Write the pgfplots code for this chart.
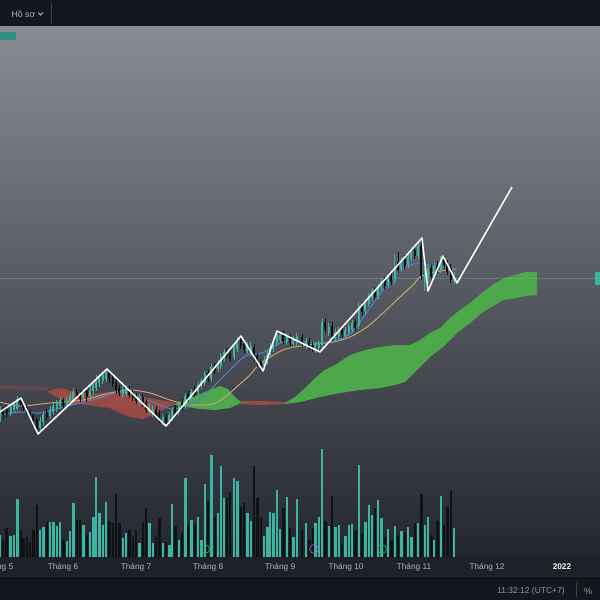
\documentclass[border=0pt]{standalone}
\usepackage{fontspec}
\setmainfont{Liberation Sans}
\usepackage{pgfplots}
\usepackage{pgfplotstable}
\pgfplotsset{compat=1.18}
\definecolor{barbg}{HTML}{131722}
\definecolor{bgtop}{HTML}{8A8C94}
\definecolor{bgmid}{HTML}{5C5E68}
\definecolor{bgbot}{HTML}{24262F}
\definecolor{band}{HTML}{1F2129}
\definecolor{statusbg}{HTML}{15171F}
\definecolor{upc}{HTML}{3CB4A2}
\definecolor{dnc}{HTML}{111214}
\definecolor{cgreen}{HTML}{4CA84A}
\definecolor{cred}{HTML}{A94B45}
\definecolor{mablue}{HTML}{4A86CC}
\definecolor{matan}{HTML}{CBA26E}
\definecolor{txt}{HTML}{B2B5BE}
\definecolor{evgreen}{HTML}{3FAE4A}
\definecolor{evpurple}{HTML}{8E6AC8}

% up candles: x open close high low (pixel rows, y downwards)
\pgfplotstableread{
x o c h l
0 418 410 406 422
10.7 413 407 404 416
14 410 404 401 413
17.3 409 399 396 411
40 428 421 417 432
43.3 422 414 411 426
50 416 409 406 419
53.3 412 406 403 415
56.7 409 403 400 412
60 406 400 397 409
66.7 406 400 396 409
70 402 396 393 405
73.3 400 391 388 403
83.3 398 392 389 401
90 396 390 386 400
93.3 391 384 381 394
96 388 379 375 391
99.3 383 377 374 387
102.7 381 375 372 384
106 379 372 369 382
122.7 395 389 386 398
126 394 388 385 397
139.3 402 397 394 405
149.3 412 406 403 415
152.7 414 409 406 417
162.7 422 417 414 425
169.3 421 415 412 424
172 418 410 407 421
178.7 412 406 403 415
185.3 406 396 393 409
191.3 398 392 389 401
198 392 385 382 395
201.3 386 381 378 389
204.7 383 374 371 386
211.3 379 367 364 382
218 369 363 360 372
220.7 366 356 353 369
224 358 352 349 361
234 357 347 344 360
237.3 349 341 337 352
247.3 351 345 342 354
250.7 352 346 342 356
264 366 360 356 370
267.3 362 354 350 365
270 355 347 343 358
273.3 349 341 337 352
276.7 343 334 331 346
280 340 335 332 343
286.7 342 336 333 345
293.3 344 339 336 347
296.7 343 336 333 346
306 346 341 338 349
315.3 350 345 342 353
318.7 348 343 340 352
322 345 322 318 348
328.7 333 327 323 336
335.3 338 332 329 342
338.7 336 330 327 339
345.3 336 330 327 339
348.7 333 326 323 336
352 330 323 320 333
358.7 326 306 302 329
365.3 311 303 300 314
368.7 304 296 293 307
372 298 291 288 301
378 296 287 284 299
381.3 288 281 278 291
388 285 277 274 288
394.7 281 268 254 284
401.3 269 261 257 272
408 265 257 253 268
411.3 258 250 247 262
418 256 246 242 259
424.7 282 272 268 291
428 279 268 264 283
434 276 266 262 279
440.7 270 259 256 273
454 281 276 272 284
}\upcandles

\pgfplotstableread{
x o c h l
3.3 410 415 407 419
6.7 409 414 406 417
20.7 399 404 397 406
23.3 403 408 401 411
26.7 407 412 405 415
30 411 417 409 420
33.3 415 423 413 427
36.7 419 429 417 434
46.7 412 417 409 420
63.3 400 405 398 408
76.7 392 396 389 399
80 394 399 391 402
86.7 391 397 388 402
109.3 373 379 371 383
112.7 378 384 375 387
116 382 391 379 394
119.3 388 393 385 396
129.3 389 395 386 398
132.7 393 398 390 401
136 396 401 393 404
142.7 397 404 394 407
146 402 410 399 413
156 409 415 406 418
159.3 413 420 410 423
166 417 422 414 426
175.3 408 413 405 416
182 402 407 399 410
188 394 399 391 402
194.7 389 394 386 397
208 373 379 370 382
214.7 366 371 363 374
226.7 351 356 348 359
230 353 359 350 362
240.7 340 346 336 349
244 344 350 341 353
254 347 358 344 361
257.3 356 364 353 367
260.7 362 368 359 371
283.3 334 341 331 344
290 337 343 334 346
302 337 343 334 346
309.3 341 347 338 350
312.7 345 349 342 352
325.3 322 330 318 333
332 326 337 322 341
342 330 335 327 338
355.3 322 328 319 331
362 305 312 302 315
374.7 290 297 287 300
384.7 280 286 277 289
391.3 276 282 272 285
398 262 270 252 273
404.7 259 266 255 269
414.7 250 256 246 259
421.3 246 276 238 280
431.3 268 276 265 279
437.3 265 270 261 273
444 259 265 256 268
447.3 263 272 260 275
450.7 268 280 264 283
}\dncandles

% volume: x and top of bar (bars stand on y = 557)
\pgfplotstableread{
x t
0 535
10.7 536
14 535
17.3 499
40 530
43.3 527
50 522
53.3 522
56.7 526
60 522
66.7 541
70 531
73.3 503
83.3 525
90 532
93.3 517
96 477
99.3 513
102.7 525
106 502
122.7 538
126 533
139.3 543
149.3 523
152.7 543
162.7 543
169.3 545
172 504
178.7 540
185.3 478
191.3 520
198 517
201.3 540
204.7 484
211.3 455
218 513
220.7 466
224 498
234 478
237.3 481
247.3 513
250.7 521
264 536
267.3 527
270 512
273.3 513
276.7 490
280 529
286.7 497
293.3 537
296.7 499
306 523
315.3 523
318.7 517
322 449
328.7 526
335.3 527
338.7 525
345.3 536
348.7 525
352 524
358.7 465
365.3 522
368.7 505
372 515
378 500
381.3 518
388 529
394.7 526
401.3 531
408 527
411.3 537
418 523
424.7 525
428 517
434 540
440.7 496
454 528
}\upvol

\pgfplotstableread{
x t
3.3 540
6.7 528
20.7 530
23.3 538
26.7 537
30 542
33.3 530
36.7 505
46.7 522
63.3 540
76.7 520
80 520
86.7 535
109.3 521
112.7 523
116 494
119.3 523
129.3 530
132.7 537
136 530
142.7 522
146 508
156 537
159.3 518
166 542
175.3 526
182 533
188 525
194.7 525
208 502
214.7 517
226.7 498
230 492
240.7 507
244 503
254 466
257.3 498
260.7 517
283.3 508
290 528
302 530
309.3 540
312.7 528
325.3 521
332 496
342 544
355.3 531
362 534
374.7 508
384.7 537
391.3 540
398 535
404.7 532
414.7 523
421.3 494
431.3 535
437.3 521
444 525
447.3 507
450.7 491
}\dnvol

\begin{document}
\begin{tikzpicture}
\useasboundingbox (0,0) rectangle (600bp,600bp);
\begin{axis}[
  at={(0,600bp)}, anchor=north west,
  scale only axis, width=600bp, height=600bp,
  xmin=0, xmax=600, ymin=0, ymax=600, y dir=reverse,
  hide axis, clip=true]

% backgrounds
\fill[barbg] (axis cs:0,0) rectangle (axis cs:600,26);
\shade[top color=bgtop, middle color=bgmid, bottom color=bgbot] (axis cs:0,26) rectangle (axis cs:600,557);
\fill[band] (axis cs:0,557) rectangle (axis cs:600,578);
\fill[statusbg] (axis cs:0,578) rectangle (axis cs:600,600);
\draw[color=black!60!barbg, line width=0.8bp] (axis cs:0,578) -- (axis cs:600,578);
\draw[color=white!18!barbg, line width=0.8bp] (axis cs:51,3) -- (axis cs:51,24);
\draw[color=white!18!statusbg, line width=0.8bp] (axis cs:576,583) -- (axis cs:576,597);

% ichimoku cloud
\addplot[fill=cred, fill opacity=0.35, draw=none] coordinates {(0,386)(48,387)(48,390)(0,389)} -- cycle;
\addplot[fill=cred, fill opacity=0.85, draw=none] coordinates {
 (48,391)(55,389)(62,388)(70,391)(80,393)(95,394)(110,392)(125,394)(143,397)(160,400)(175,403)
 (175,404)(165,409)(155,414)(143,419)(130,417)(120,413)(110,408)(95,406)(80,404)(72,405)(65,401)(55,396)(48,392)} -- cycle;
\addplot[fill=cgreen, draw=none] coordinates {
 (175,404)(187,399)(200,394)(210,390)(220,386)(228,389)(235,397)(241,402)
 (241,403)(230,408)(215,410)(200,409)(187,407)(175,405)} -- cycle;
\addplot[fill=cred, fill opacity=0.85, draw=none] coordinates {(241,401)(260,401)(287,402)(287,404)(260,405)(241,404)} -- cycle;
\addplot[fill=cgreen, draw=none] coordinates {
 (285,403)(295,397)(305,388)(315,378)(325,370)(335,365)(350,355)(365,350)(380,347)(395,345)(410,345)
 (420,340)(430,333)(440,328)(450,318)(460,310)(470,303)(483,292)(495,283)(505,278)(515,275)(525,272)(537,272)
 (537,295)(525,296)(515,298)(503,300)(490,308)(483,312)(470,323)(457,333)(443,347)(430,357)(417,370)
 (405,382)(395,385)(380,388)(360,390)(340,393)(320,397)(300,402)(285,404)} -- cycle;

% current price line
\addplot[color=upc!70!white, opacity=0.55, line width=0.6bp, dash pattern=on 1bp off 1bp] coordinates {(0,278)(600,278)};

% volume
\addplot[draw=upc, line width=2.4bp, quiver={u=0, v=\thisrow{t}-557}] table[x=x, y expr=557] {\upvol};
\addplot[draw=dnc, line width=2.4bp, quiver={u=0, v=\thisrow{t}-557}] table[x=x, y expr=557] {\dnvol};
\addplot[only marks, mark=o, mark size=4.5bp, draw=evgreen, line width=0.9bp, opacity=0.8] coordinates {(205,549)(382,549)};
\addplot[only marks, mark=o, mark size=4.5bp, draw=evpurple, line width=0.9bp, opacity=0.8] coordinates {(314,549)};

% moving averages
\addplot[color=matan, line width=1bp, smooth] coordinates {
 (0,402)(20,406)(50,403)(83,400)(110,393)(130,390)(150,393)(173,401)(193,405)(213,404)(225,397)(240,384)
 (250,375)(260,364)(283,350)(307,345)(333,342)(350,337)(367,327)(383,313)(400,297)(413,285)(420,277)(435,272)(456,269)};
\addplot[color=mablue, line width=1bp, smooth] coordinates {
 (0,415)(20,412)(40,413)(60,408)(80,403)(100,398)(115,393)(130,393)(145,399)(160,405)(172,409)(185,406)
 (200,399)(210,390)(220,380)(230,370)(240,360)(250,354)(262,353)(283,342)(300,341)(320,343)(337,340)
 (350,334)(360,322)(377,298)(390,281)(403,268)(420,263)(430,266)(450,268)(456,270)};

% candles
\addplot[draw=upc, line width=0.7bp, quiver={u=0, v=\thisrow{l}-\thisrow{h}}] table[x=x, y=h] {\upcandles};
\addplot[draw=dnc, line width=0.7bp, quiver={u=0, v=\thisrow{l}-\thisrow{h}}] table[x=x, y=h] {\dncandles};
\addplot[draw=upc, line width=2.3bp, quiver={u=0, v=\thisrow{c}-\thisrow{o}}] table[x=x, y=o] {\upcandles};
\addplot[draw=dnc, line width=2.3bp, quiver={u=0, v=\thisrow{c}-\thisrow{o}}] table[x=x, y=o] {\dncandles};

% zigzag
\addplot[color=white, line width=1.5bp, line join=round] coordinates {
 (0,412)(21,398)(38,434)(107,369)(166,426)(241,336)(263,371)(277,331)(320,352)(422,238)(428,291)(443,256)(457,283)(512,187)};

% labels
\fill[upc!80!black] (axis cs:0,32) rectangle (axis cs:16,40);
\fill[upc] (axis cs:595,272) rectangle (axis cs:600,285);
\node[anchor=west, text=txt, font=\fontsize{8.8}{10}\selectfont] at (axis cs:8,14) {Hồ sơ};
\draw[txt, line width=0.8bp] (axis cs:38,12.5) -- (axis cs:40.5,15) -- (axis cs:43,12.5);
\node[text=txt, font=\fontsize{8.3}{10}\selectfont] at (axis cs:-2,567) {Tháng 5};
\node[text=txt, font=\fontsize{8.3}{10}\selectfont] at (axis cs:63,567) {Tháng 6};
\node[text=txt, font=\fontsize{8.3}{10}\selectfont] at (axis cs:136,567) {Tháng 7};
\node[text=txt, font=\fontsize{8.3}{10}\selectfont] at (axis cs:208,567) {Tháng 8};
\node[text=txt, font=\fontsize{8.3}{10}\selectfont] at (axis cs:280,567) {Tháng 9};
\node[text=txt, font=\fontsize{8.3}{10}\selectfont] at (axis cs:346,567) {Tháng 10};
\node[text=txt, font=\fontsize{8.3}{10}\selectfont] at (axis cs:414,567) {Tháng 11};
\node[text=txt, font=\fontsize{8.3}{10}\selectfont] at (axis cs:487,567) {Tháng 12};
\node[text=white!85!txt, font=\bfseries\fontsize{8.3}{10}\selectfont] at (axis cs:562,567) {2022};
\node[text=txt!85!black, font=\fontsize{8.5}{10}\selectfont] at (axis cs:531,591) {11:32:12 (UTC+7)};
\node[text=txt!85!black, font=\fontsize{9}{10}\selectfont] at (axis cs:588,591) {\%};
\end{axis}
\end{tikzpicture}
\end{document}
